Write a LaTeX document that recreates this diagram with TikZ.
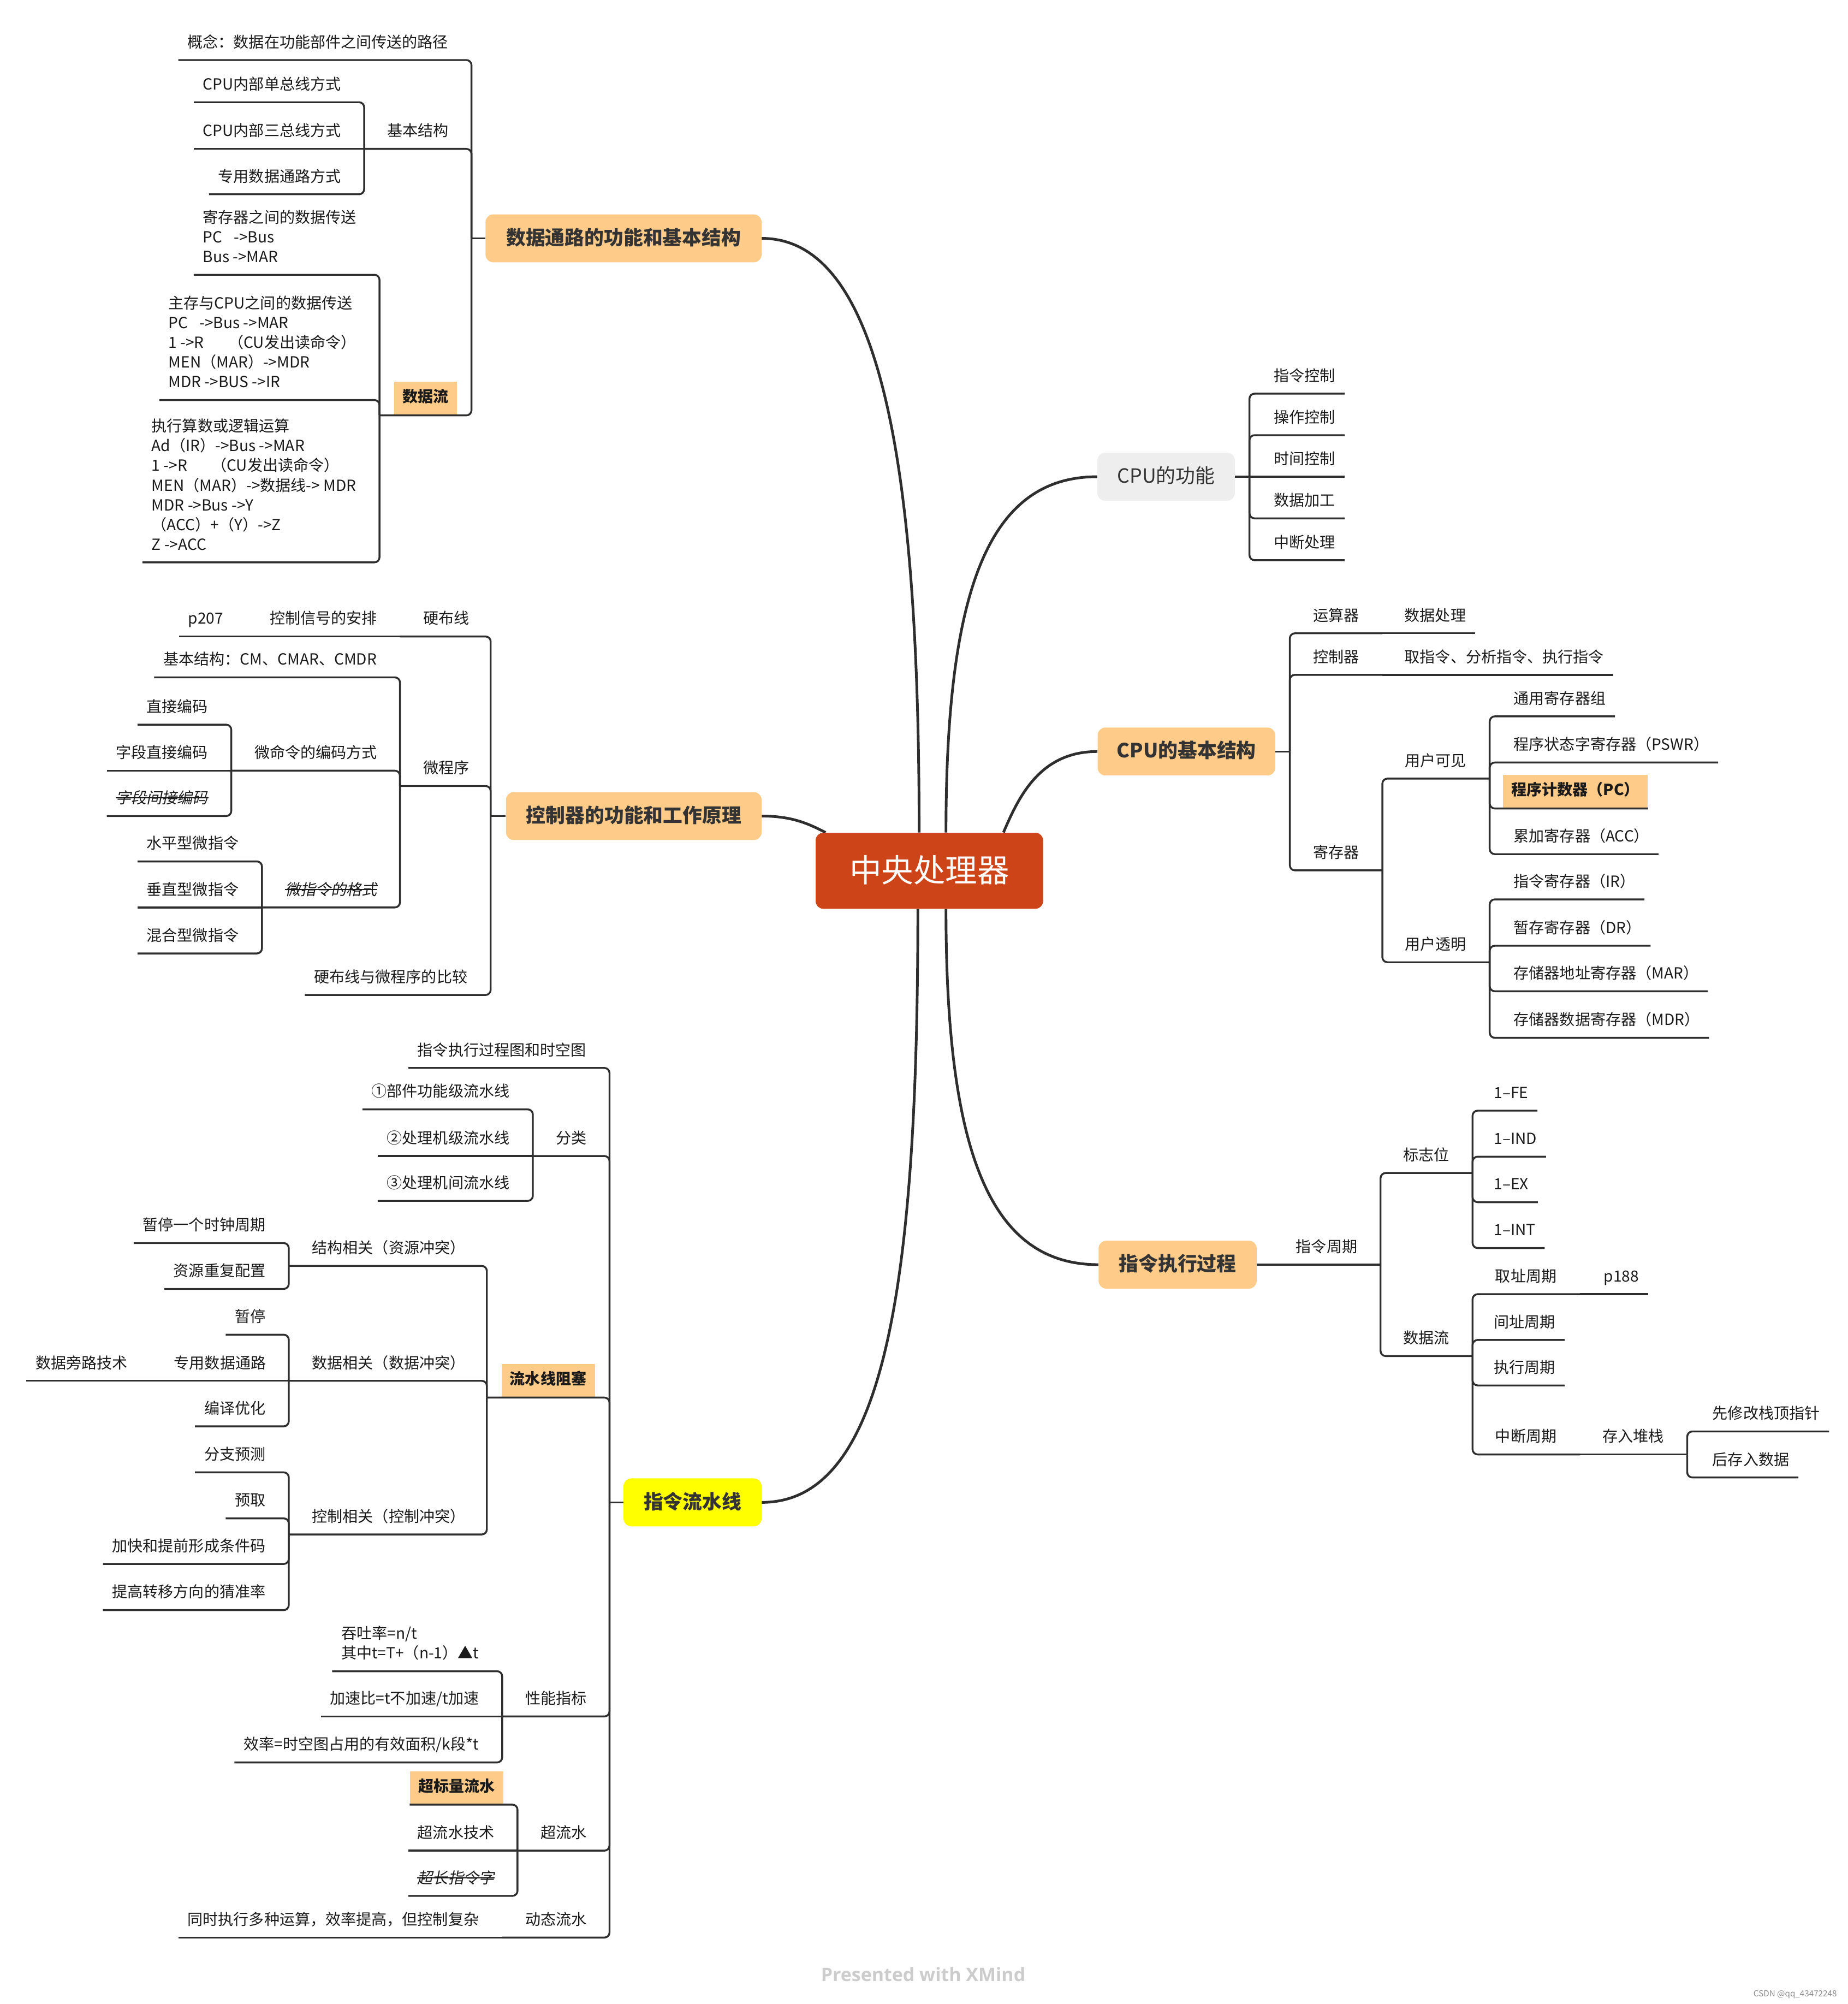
\documentclass[tikz,border=0pt]{standalone}
\usepackage{fontspec}
\setmainfont{Noto Sans CJK SC}
\newfontfamily\slfont[FakeSlant=0.2]{Noto Sans CJK SC}
\newfontfamily\wmfont{Open Sans}
\usetikzlibrary{calc}
\pgfdeclarelayer{bg}
\pgfsetlayers{bg,main}
\definecolor{orng}{HTML}{FECB89}
\definecolor{cred}{HTML}{CC4418}
\definecolor{lgry}{HTML}{EEEEEE}
\definecolor{ylw}{HTML}{FFFF00}
\definecolor{lnc}{HTML}{2E2E2E}
\definecolor{tx}{HTML}{1A1A1A}
\definecolor{ttx}{HTML}{333333}
\definecolor{wmc}{HTML}{CCCCCC}
\newcommand\dstr{\rule[-3pt]{0pt}{3pt}}
\newcommand\fsm{\fontsize{12pt}{15.4pt}\selectfont}
\tikzset{
 leafn/.style={font=\fsm, text=tx, text height=9pt, text depth=3pt, inner xsep=7pt, inner ysep=6.5pt},
 nleaf/.style={leafn, inner xsep=18pt},
 mline/.style={font=\fsm, text=tx, align=left, inner xsep=7pt, inner ysep=6.5pt},
 hlbox/.style={fill=orng, font=\fsm\bfseries, text=tx, text height=9pt, text depth=3pt, inner xsep=6.5pt, inner ysep=7pt},
 topic/.style={fill=orng, rounded corners=6pt, font=\fontsize{15.3pt}{18pt}\selectfont\bfseries, text=ttx, minimum height=37.5pt, inner xsep=0pt, text height=12.5pt, text depth=2.5pt},
 cnode/.style={fill=cred, rounded corners=6pt, text=white, font=\fontsize{25pt}{30pt}\selectfont, minimum width=178pt, minimum height=59.5pt, inner sep=0pt, text height=21pt, text depth=3pt},
 branch/.style={draw=lnc, line width=1.45pt, rounded corners=4pt},
 mcurve/.style={draw=lnc, line width=2.1pt},
 strk/.style={draw=tx, line width=0.9pt},
}
\begin{document}
\begin{tikzpicture}[x=1pt,y=-1pt]
\useasboundingbox (0,0) rectangle (1446,1568);

% ---------- central ----------
\node[cnode] (C) at (727.3,681.3) {中央处理器};

% ---------- Tree 1 ----------
\node[topic, minimum width=216pt] (T1) at (488,186.5) {数据通路的功能和基本结构};
\coordinate (T1b) at (369,186.5);
\node[leafn, anchor=south east] (a1) at (358,47) {概念：数据在功能部件之间传送的路径};
\node[nleaf, anchor=south west] (a2) at (285,116.5) {基本结构};
\node[leafn, anchor=south east] (a21) at (274,80) {CPU内部单总线方式};
\node[leafn, anchor=south east] (a22) at (274,116.5) {CPU内部三总线方式};
\node[leafn, anchor=south east] (a23) at (274,152) {专用数据通路方式};
\node[hlbox, anchor=south] (a3) at (333,325) {数据流};
\coordinate (a3b) at (297,325);
\node[mline, anchor=south east] (a31) at (286,215) {寄存器之间的数据传送\\PC\hspace{9pt}->Bus\\Bus ->MAR\dstr};
\node[mline, anchor=south east] (a32) at (286,313) {主存与CPU之间的数据传送\\PC\hspace{9pt}->Bus ->MAR\\1 ->R\hspace{19pt}（CU发出读命令）\\MEN（MAR）->MDR\\MDR ->BUS ->IR\dstr};
\node[mline, anchor=south east] (a33) at (286,440) {执行算数或逻辑运算\\Ad（IR）->Bus ->MAR\\1 ->R\hspace{19pt}（CU发出读命令）\\MEN（MAR）->数据线-> MDR\\MDR ->Bus ->Y\\（ACC）+（Y）->Z\\Z ->ACC\dstr};

\draw[branch] (T1.west) -- (T1b);
\draw[branch] (T1b) |- (a1.south west);
\draw[branch] (T1b) |- (a2.south west);
\draw[branch] (T1b) |- (a3b);
\draw[branch] (a2.south west) |- (a21.south west);
\draw[branch] (a2.south west) -- (a22.south west);
\draw[branch] (a2.south west) |- (a23.south west);
\draw[branch] (a3b) |- (a31.south west);
\draw[branch] (a3b) |- (a32.south west);
\draw[branch] (a3b) |- (a33.south west);

% ---------- Tree 2 ----------
\node[topic, minimum width=200pt] (T2) at (496,638.5) {控制器的功能和工作原理};
\coordinate (T2b) at (384,638.5);
\node[nleaf, anchor=south west] (b1) at (313,498) {硬布线};
\node[nleaf, anchor=south west] (b11) at (193,498) {控制信号的安排};
\node[leafn, anchor=south east] (b111) at (182,498) {p207};
\node[nleaf, anchor=south west] (b2) at (313,615) {微程序};
\node[leafn, anchor=south east] (b21) at (302,530) {基本结构：CM、CMAR、CMDR};
\node[nleaf, anchor=south west] (b22) at (181,603) {微命令的编码方式};
\node[leafn, anchor=south east] (b221) at (170,567) {直接编码};
\node[leafn, anchor=south east] (b222) at (170,603) {字段直接编码};
\node[leafn, anchor=south east] (b223) at (170,638.5) {\slfont 字段间接编码};
\node[nleaf, anchor=south west] (b23) at (205,710) {\slfont 微指令的格式};
\node[leafn, anchor=south east] (b231) at (194,674) {水平型微指令};
\node[leafn, anchor=south east] (b232) at (194,710) {垂直型微指令};
\node[leafn, anchor=south east] (b233) at (194,746) {混合型微指令};
\node[leafn, anchor=south east] (b3) at (373,778.5) {硬布线与微程序的比较};
\draw[strk] ([xshift=7pt,yshift=1.5pt]b223.west) -- ([xshift=-7pt,yshift=1.5pt]b223.east);
\draw[strk] ([xshift=18pt,yshift=1.5pt]b23.west) -- ([xshift=-18pt,yshift=1.5pt]b23.east);

\draw[branch] (T2.west) -- (T2b);
\draw[branch] (T2b) |- (b1.south west);
\draw[branch] (b1.south west) -- (b11.south west);
\draw[branch] (b11.south west) -- (b111.south west);
\draw[branch] (T2b) |- (b2.south west);
\draw[branch] (T2b) |- (b3.south west);
\draw[branch] (b2.south west) |- (b21.south west);
\draw[branch] (b2.south west) |- (b22.south west);
\draw[branch] (b2.south west) |- (b23.south west);
\draw[branch] (b22.south west) |- (b221.south west);
\draw[branch] (b22.south west) -- (b222.south west);
\draw[branch] (b22.south west) |- (b223.south west);
\draw[branch] (b23.south west) |- (b231.south west);
\draw[branch] (b23.south west) -- (b232.south west);
\draw[branch] (b23.south west) |- (b233.south west);

% ---------- Tree 3 ----------
\node[topic, fill=ylw, minimum width=108pt] (T3) at (542,1175.5) {指令流水线};
\coordinate (T3b) at (477,1175.5);
\node[leafn, anchor=south east] (c1) at (466,835.6) {指令执行过程图和时空图};
\node[nleaf, anchor=south west] (c2) at (417,904.5) {分类};
\node[leafn, anchor=south east] (c21) at (406,868) {①部件功能级流水线};
\node[leafn, anchor=south east] (c22) at (406,904.5) {②处理机级流水线};
\node[leafn, anchor=south east] (c23) at (406,939.6) {③处理机间流水线};
\node[hlbox, anchor=south] (c3) at (429,1093.5) {流水线阻塞};
\coordinate (c3b) at (381,1093.5);
\node[nleaf, anchor=south west] (c31) at (226,990.5) {结构相关（资源冲突）};
\node[leafn, anchor=south east] (c311) at (215,972.6) {暂停一个时钟周期};
\node[leafn, anchor=south east] (c312) at (215,1008.5) {资源重复配置};
\node[nleaf, anchor=south west] (c32) at (226,1080.4) {数据相关（数据冲突）};
\node[leafn, anchor=south east] (c321) at (215,1044.3) {暂停};
\node[nleaf, anchor=south west] (c322) at (118,1080.4) {专用数据通路};
\node[leafn, anchor=south east] (c3221) at (107,1080.4) {数据旁路技术};
\node[leafn, anchor=south east] (c323) at (215,1116) {编译优化};
\node[nleaf, anchor=south west] (c33) at (226,1200.6) {控制相关（控制冲突）};
\node[leafn, anchor=south east] (c331) at (215,1152) {分支预测};
\node[leafn, anchor=south east] (c332) at (215,1188) {预取};
\node[leafn, anchor=south east] (c333) at (215,1223.7) {加快和提前形成条件码};
\node[leafn, anchor=south east] (c334) at (215,1259.8) {提高转移方向的猜准率};
\node[nleaf, anchor=south west] (c4) at (393,1343) {性能指标};
\node[mline, anchor=south east] (c41) at (382,1307.6) {吞吐率=n/t\\其中t=T+（n-1）▲t\dstr};
\node[leafn, anchor=south east] (c42) at (382,1343) {加速比=t不加速/t加速};
\node[leafn, anchor=south east] (c43) at (382,1379) {效率=时空图占用的有效面积/k段*t};
\node[nleaf, anchor=south west] (c5) at (405,1448) {超流水};
\node[hlbox, anchor=south west] (c51) at (320.6,1412) {超标量流水};
\node[leafn, anchor=south east] (c52) at (394,1448) {超流水技术};
\node[leafn, anchor=south east] (c53) at (394,1483.4) {\slfont 超长指令字};
\node[nleaf, anchor=south west] (c6) at (393,1516) {动态流水};
\node[leafn, anchor=south east] (c61) at (382,1516) {同时执行多种运算，效率提高，但控制复杂};
\draw[strk] ([xshift=7pt,yshift=1.5pt]c53.west) -- ([xshift=-7pt,yshift=1.5pt]c53.east);

\draw[branch] (T3.west) -- (T3b);
\draw[branch] (T3b) |- (c1.south west);
\draw[branch] (T3b) |- (c2.south west);
\draw[branch] (T3b) |- (c3b);
\draw[branch] (T3b) |- (c4.south west);
\draw[branch] (T3b) |- (c5.south west);
\draw[branch] (T3b) |- (c6.south west);
\draw[branch] (c2.south west) |- (c21.south west);
\draw[branch] (c2.south west) -- (c22.south west);
\draw[branch] (c2.south west) |- (c23.south west);
\draw[branch] (c3b) |- (c31.south west);
\draw[branch] (c3b) |- (c32.south west);
\draw[branch] (c3b) |- (c33.south west);
\draw[branch] (c31.south west) |- (c311.south west);
\draw[branch] (c31.south west) |- (c312.south west);
\draw[branch] (c32.south west) |- (c321.south west);
\draw[branch] (c32.south west) -- (c322.south west);
\draw[branch] (c322.south west) -- (c3221.south west);
\draw[branch] (c32.south west) |- (c323.south west);
\draw[branch] (c33.south west) |- (c331.south west);
\draw[branch] (c33.south west) |- (c332.south west);
\draw[branch] (c33.south west) |- (c333.south west);
\draw[branch] (c33.south west) |- (c334.south west);
\draw[branch] (c4.south west) |- (c41.south west);
\draw[branch] (c4.south west) -- (c42.south west);
\draw[branch] (c4.south west) |- (c43.south west);
\draw[branch] (c5.south west) |- (c51.south west);
\draw[branch] (c5.south west) -- (c52.south west);
\draw[branch] (c5.south west) |- (c53.south west);
\draw[branch] (c6.south west) -- (c61.south west);

% ---------- Tree 4 ----------
\node[topic, fill=lgry, font=\fontsize{15.3pt}{18pt}\selectfont, minimum width=107.6pt] (T4) at (912.6,373) {CPU的功能};
\coordinate (T4b) at (977.8,373);
\node[leafn, anchor=south west] (d1) at (989.8,308) {指令控制};
\node[leafn, anchor=south west] (d2) at (989.8,340.5) {操作控制};
\node[leafn, anchor=south west] (d3) at (989.8,373) {时间控制};
\node[leafn, anchor=south west] (d4) at (989.8,405.6) {数据加工};
\node[leafn, anchor=south west] (d5) at (989.8,438.3) {中断处理};
\draw[branch] (T4.east) -- (T4b);
\draw[branch] (T4b) |- (d1.south east);
\draw[branch] (T4b) |- (d2.south east);
\draw[branch] (T4b) -- (d3.south east);
\draw[branch] (T4b) |- (d4.south east);
\draw[branch] (T4b) |- (d5.south east);

% ---------- Tree 5 ----------
\node[topic, minimum width=139pt] (T5) at (928.5,588) {CPU的基本结构};
\coordinate (T5b) at (1009.4,588);
\node[nleaf, anchor=south west] (e1) at (1009.4,495.5) {运算器};
\node[leafn, anchor=south west] (e11) at (1092,495.5) {数据处理};
\node[nleaf, anchor=south west] (e2) at (1009.4,528) {控制器};
\node[leafn, anchor=south west] (e21) at (1092,528) {取指令、分析指令、执行指令};
\node[nleaf, anchor=south west] (e3) at (1009.4,681) {寄存器};
\node[nleaf, anchor=south west] (e31) at (1081.4,609.2) {用户可见};
\node[leafn, anchor=south west] (e311) at (1177.4,560.5) {通用寄存器组};
\node[leafn, anchor=south west] (e312) at (1177.4,596.6) {程序状态字寄存器（PSWR）};
\node[hlbox, anchor=south west] (e313) at (1176,632.6) {程序计数器（PC）};
\node[leafn, anchor=south west] (e314) at (1177.4,668.3) {累加寄存器（ACC）};
\node[nleaf, anchor=south west] (e32) at (1081.4,752.9) {用户透明};
\node[leafn, anchor=south west] (e321) at (1177.4,703.7) {指令寄存器（IR）};
\node[leafn, anchor=south west] (e322) at (1177.4,740) {暂存寄存器（DR）};
\node[leafn, anchor=south west] (e323) at (1177.4,775.6) {存储器地址寄存器（MAR）};
\node[leafn, anchor=south west] (e324) at (1177.4,812) {存储器数据寄存器（MDR）};
\draw[branch] (T5.east) -- (T5b);
\draw[branch] (T5b) |- (e1.south east);
\draw[branch] (T5b) |- (e2.south east);
\draw[branch] (T5b) |- (e3.south east);
\draw[branch] (e1.south east) -- (e11.south east);
\draw[branch] (e2.south east) -- (e21.south east);
\draw[branch] (e3.south east) |- (e31.south east);
\draw[branch] (e3.south east) |- (e32.south east);
\draw[branch] (e31.south east) |- (e311.south east);
\draw[branch] (e31.south east) |- (e312.south east);
\draw[branch] (e31.south east) |- (e313.south east);
\draw[branch] (e31.south east) |- (e314.south east);
\draw[branch] (e32.south east) |- (e321.south east);
\draw[branch] (e32.south east) |- (e322.south east);
\draw[branch] (e32.south east) |- (e323.south east);
\draw[branch] (e32.south east) |- (e324.south east);

% ---------- Tree 6 ----------
\node[topic, minimum width=123.7pt] (T6) at (921.6,989.5) {指令执行过程};
\node[nleaf, anchor=south west] (f1) at (996,989.5) {指令周期};
\node[nleaf, anchor=south west] (f11) at (1080,917.8) {标志位};
\node[leafn, anchor=south west] (f111) at (1162,869) {1–FE};
\node[leafn, anchor=south west] (f112) at (1162,905) {1–IND};
\node[leafn, anchor=south west] (f113) at (1162,940.6) {1–EX};
\node[leafn, anchor=south west] (f114) at (1162,976.5) {1–INT};
\node[nleaf, anchor=south west] (f12) at (1080,1061) {数据流};
\node[nleaf, anchor=south west] (f121) at (1152,1012.6) {取址周期};
\node[leafn, anchor=south west] (f1211) at (1248,1012.6) {p188};
\node[leafn, anchor=south west] (f122) at (1162,1048.4) {间址周期};
\node[leafn, anchor=south west] (f123) at (1162,1084) {执行周期};
\node[nleaf, anchor=south west] (f124) at (1152,1138) {中断周期};
\node[nleaf, anchor=south west] (f1241) at (1236,1138) {存入堆栈};
\node[leafn, anchor=south west] (f12411) at (1333,1120) {先修改栈顶指针};
\node[leafn, anchor=south west] (f12412) at (1333,1156) {后存入数据};
\draw[branch] (T6.east) -- (f1.south east);
\draw[branch] (f1.south east) |- (f11.south east);
\draw[branch] (f1.south east) |- (f12.south east);
\draw[branch] (f11.south east) |- (f111.south east);
\draw[branch] (f11.south east) |- (f112.south east);
\draw[branch] (f11.south east) |- (f113.south east);
\draw[branch] (f11.south east) |- (f114.south east);
\draw[branch] (f12.south east) |- (f121.south east);
\draw[branch] (f12.south east) |- (f122.south east);
\draw[branch] (f12.south east) |- (f123.south east);
\draw[branch] (f12.south east) |- (f124.south east);
\draw[branch] (f121.south east) -- (f1211.south east);
\draw[branch] (f124.south east) -- (f1241.south east);
\draw[branch] (f1241.south east) |- (f12411.south east);
\draw[branch] (f1241.south east) |- (f12412.south east);

% ---------- watermarks ----------
\node[font=\wmfont\bfseries\fontsize{14.5pt}{16pt}\selectfont, text=wmc] (wm) at (722.5,1545) {Presented with XMind};
\node[font=\fontsize{6.5pt}{7pt}\selectfont, text=black!45, anchor=east] (cs) at (1441,1560.5) {CSDN @qq\_43472248};

% ---------- background + main curves ----------
\begin{pgfonlayer}{bg}
\fill[white] (0,0) rectangle (1446,1568);
\draw[mcurve] (T1.east) .. controls +(95,0) and +(0,-280) .. ([xshift=-8pt]C.north);
\draw[mcurve] (T2.east) .. controls +(25,0) and +(-12,-6) .. ([xshift=8pt]C.north west);
\draw[mcurve] (T3.east) .. controls +(95,0) and +(0,300) .. ([xshift=-9pt]C.south);
\draw[mcurve] (T4.west) .. controls +(-85,0) and +(0,-190) .. ([xshift=13pt]C.north);
\draw[mcurve] (T5.west) .. controls +(-45,0) and +(12,-28) .. ([xshift=58pt]C.north);
\draw[mcurve] (T6.west) .. controls +(-85,0) and +(0,190) .. ([xshift=13pt]C.south);
\end{pgfonlayer}
\end{tikzpicture}
\end{document}
